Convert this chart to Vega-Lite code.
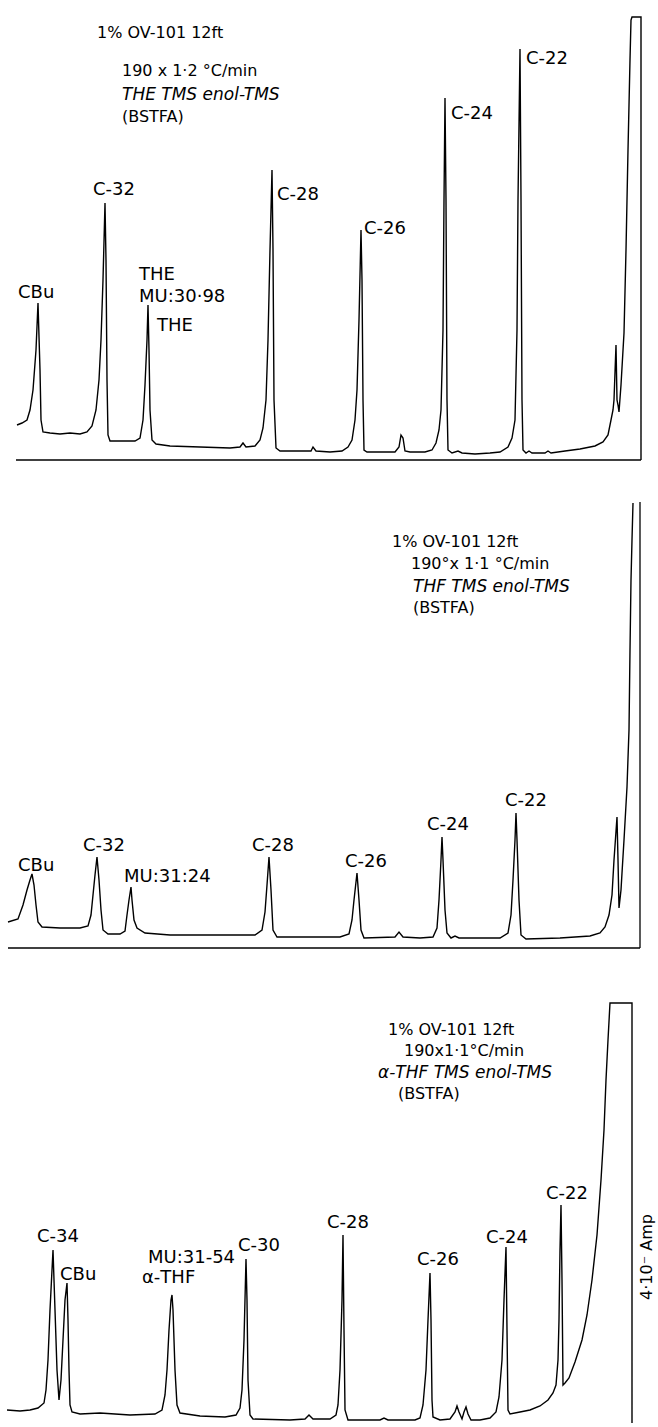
{
  "$schema": "https://vega.github.io/schema/vega-lite/v6.json",
  "padding": 0,
  "background": "white",
  "spacing": 0,
  "bounds": "flush",
  "config": {"view": {"stroke": null}, "text": {"font": "DejaVu Sans", "color": "black"}},
  "datasets": {
    "trace1": [
      {"t":17,"v":35},{"t":22,"v":37},{"t":27,"v":40},{"t":30,"v":50},{"t":33,"v":70},{"t":36,"v":110},{"t":38,"v":157},{"t":40,"v":90},{"t":41,"v":40},{"t":43,"v":28},
      {"t":50,"v":27},{"t":60,"v":26},{"t":70,"v":27},{"t":80,"v":26},{"t":87,"v":28},{"t":92,"v":34},{"t":96,"v":50},{"t":99,"v":80},{"t":101,"v":120},{"t":103,"v":180},
      {"t":105,"v":257},{"t":106,"v":200},{"t":107,"v":80},{"t":108,"v":25},{"t":110,"v":19},{"t":120,"v":19},{"t":135,"v":19},{"t":140,"v":22},{"t":143,"v":40},{"t":145,"v":75},
      {"t":147,"v":120},{"t":148,"v":155},{"t":149,"v":110},{"t":150,"v":50},{"t":152,"v":20},{"t":156,"v":16},{"t":170,"v":14},{"t":200,"v":13},{"t":230,"v":12},{"t":240,"v":13},
      {"t":243,"v":17},{"t":246,"v":13},{"t":255,"v":14},{"t":260,"v":20},{"t":263,"v":32},{"t":266,"v":60},{"t":268,"v":120},{"t":270,"v":210},{"t":272,"v":290},{"t":273,"v":210},
      {"t":274,"v":60},{"t":276,"v":12},{"t":280,"v":9},{"t":300,"v":9},{"t":311,"v":9},{"t":313,"v":13},{"t":316,"v":9},{"t":330,"v":8},{"t":342,"v":9},{"t":348,"v":13},
      {"t":352,"v":20},{"t":355,"v":40},{"t":357,"v":70},{"t":359,"v":140},{"t":361,"v":230},{"t":362,"v":180},{"t":363,"v":60},{"t":364,"v":10},{"t":367,"v":8},{"t":380,"v":8},
      {"t":395,"v":8},{"t":399,"v":13},{"t":401,"v":25},{"t":403,"v":22},{"t":405,"v":9},{"t":410,"v":8},{"t":425,"v":8},{"t":432,"v":10},{"t":436,"v":17},{"t":439,"v":30},
      {"t":441,"v":50},{"t":443,"v":130},{"t":444,"v":260},{"t":445,"v":362},{"t":446,"v":260},{"t":447,"v":60},{"t":448,"v":10},{"t":452,"v":7},{"t":458,"v":9},{"t":462,"v":7},
      {"t":475,"v":6},{"t":490,"v":7},{"t":500,"v":8},{"t":508,"v":13},{"t":512,"v":22},{"t":515,"v":40},{"t":517,"v":130},{"t":518,"v":260},{"t":520,"v":411},{"t":521,"v":260},
      {"t":522,"v":60},{"t":523,"v":10},{"t":526,"v":7},{"t":529,"v":9},{"t":532,"v":7},{"t":545,"v":7},{"t":548,"v":9},{"t":551,"v":7},{"t":565,"v":9},{"t":580,"v":11},
      {"t":595,"v":14},{"t":603,"v":18},{"t":608,"v":25},{"t":611,"v":40},{"t":613,"v":50},{"t":614,"v":60},{"t":616,"v":115},{"t":617,"v":60},{"t":618,"v":55},{"t":619,"v":48},
      {"t":621,"v":75},{"t":624,"v":127},{"t":626,"v":210},{"t":628,"v":310},{"t":630,"v":400},{"t":631,"v":440},{"t":632,"v":443},{"t":641,"v":443},{"t":641,"v":0}
    ],
    "trace2": [
      {"t":8,"v":26},{"t":18,"v":29},{"t":23,"v":43},{"t":27,"v":58},{"t":30,"v":68},{"t":32,"v":74},{"t":34,"v":63},{"t":36,"v":43},{"t":38,"v":26},{"t":42,"v":21},
      {"t":60,"v":20},{"t":80,"v":20},{"t":88,"v":22},{"t":91,"v":33},{"t":93,"v":53},{"t":95,"v":73},{"t":97,"v":91},{"t":99,"v":68},{"t":101,"v":38},{"t":103,"v":18},
      {"t":108,"v":14},{"t":120,"v":14},{"t":125,"v":17},{"t":127,"v":33},{"t":129,"v":48},{"t":131,"v":61},{"t":132,"v":48},{"t":134,"v":28},{"t":137,"v":20},{"t":145,"v":15},
      {"t":170,"v":13},{"t":220,"v":13},{"t":255,"v":13},{"t":262,"v":18},{"t":265,"v":36},{"t":267,"v":63},{"t":269,"v":91},{"t":271,"v":58},{"t":273,"v":18},{"t":277,"v":11},
      {"t":300,"v":11},{"t":340,"v":11},{"t":349,"v":14},{"t":352,"v":28},{"t":354,"v":48},{"t":357,"v":75},{"t":359,"v":48},{"t":361,"v":18},{"t":364,"v":10},{"t":395,"v":11},
      {"t":399,"v":16},{"t":403,"v":11},{"t":420,"v":10},{"t":433,"v":11},{"t":437,"v":20},{"t":439,"v":48},{"t":441,"v":88},{"t":442,"v":111},{"t":443,"v":88},{"t":445,"v":38},
      {"t":447,"v":15},{"t":451,"v":10},{"t":455,"v":12},{"t":459,"v":10},{"t":500,"v":10},{"t":508,"v":15},{"t":511,"v":33},{"t":513,"v":68},{"t":515,"v":108},{"t":516,"v":135},
      {"t":517,"v":108},{"t":519,"v":48},{"t":521,"v":13},{"t":526,"v":9},{"t":560,"v":10},{"t":590,"v":12},{"t":600,"v":15},{"t":605,"v":21},{"t":609,"v":33},{"t":612,"v":53},
      {"t":614,"v":88},{"t":617,"v":131},{"t":618,"v":88},{"t":619,"v":40},{"t":621,"v":58},{"t":622,"v":75},{"t":624,"v":108},{"t":627,"v":161},{"t":629,"v":218},{"t":630,"v":298},
      {"t":631,"v":368},{"t":632,"v":408},{"t":633,"v":445}
    ],
    "trace3": [
      {"t":7,"v":10},{"t":20,"v":9},{"t":30,"v":10},{"t":38,"v":12},{"t":44,"v":17},{"t":46,"v":30},{"t":48,"v":60},{"t":50,"v":110},{"t":52,"v":150},{"t":53,"v":170},
      {"t":55,"v":110},{"t":57,"v":50},{"t":59,"v":20},{"t":61,"v":40},{"t":63,"v":80},{"t":65,"v":120},{"t":67,"v":137},{"t":68,"v":100},{"t":69,"v":50},{"t":70,"v":15},
      {"t":72,"v":8},{"t":80,"v":6},{"t":100,"v":7},{"t":130,"v":5},{"t":155,"v":6},{"t":162,"v":10},{"t":165,"v":25},{"t":167,"v":50},{"t":169,"v":90},{"t":171,"v":120},
      {"t":172,"v":125},{"t":173,"v":110},{"t":175,"v":50},{"t":177,"v":15},{"t":180,"v":7},{"t":200,"v":4},{"t":225,"v":3},{"t":236,"v":5},{"t":240,"v":12},{"t":242,"v":30},
      {"t":244,"v":80},{"t":246,"v":161},{"t":247,"v":120},{"t":248,"v":40},{"t":250,"v":5},{"t":253,"v":1},{"t":290,"v":0},{"t":305,"v":1},{"t":309,"v":5},{"t":313,"v":1},
      {"t":330,"v":1},{"t":336,"v":5},{"t":338,"v":15},{"t":340,"v":50},{"t":342,"v":120},{"t":343,"v":185},{"t":344,"v":90},{"t":345,"v":10},{"t":348,"v":0},{"t":380,"v":0},
      {"t":384,"v":2},{"t":388,"v":0},{"t":415,"v":0},{"t":420,"v":2},{"t":423,"v":15},{"t":426,"v":50},{"t":428,"v":100},{"t":430,"v":147},{"t":431,"v":100},{"t":432,"v":20},
      {"t":433,"v":3},{"t":440,"v":0},{"t":450,"v":1},{"t":455,"v":8},{"t":457,"v":14},{"t":459,"v":8},{"t":462,"v":1},{"t":464,"v":8},{"t":466,"v":13},{"t":468,"v":6},
      {"t":471,"v":0},{"t":480,"v":0},{"t":490,"v":2},{"t":496,"v":8},{"t":499,"v":23},{"t":502,"v":60},{"t":504,"v":120},{"t":506,"v":173},{"t":507,"v":90},{"t":508,"v":10},
      {"t":510,"v":6},{"t":520,"v":8},{"t":530,"v":10},{"t":540,"v":14},{"t":548,"v":20},{"t":553,"v":27},{"t":556,"v":35},{"t":558,"v":60},{"t":559,"v":100},{"t":560,"v":170},
      {"t":561,"v":215},{"t":562,"v":140},{"t":563,"v":35},{"t":565,"v":37},{"t":569,"v":42},{"t":575,"v":58},{"t":582,"v":80},{"t":587,"v":105},{"t":592,"v":140},{"t":597,"v":185},
      {"t":601,"v":240},{"t":604,"v":290},{"t":606,"v":340},{"t":608,"v":380},{"t":610,"v":417},{"t":632,"v":417},{"t":632,"v":-3}
    ],
    "labels": [
      {"panel":1,"t":18,"v":167,"text":"CBu"},
      {"panel":1,"t":93,"v":270,"text":"C-32"},
      {"panel":1,"t":139,"v":185,"text":"THE"},
      {"panel":1,"t":139,"v":163,"text":"MU:30·98"},
      {"panel":1,"t":157,"v":134,"text":"THE"},
      {"panel":1,"t":277,"v":265,"text":"C-28"},
      {"panel":1,"t":364,"v":231,"text":"C-26"},
      {"panel":1,"t":451,"v":346,"text":"C-24"},
      {"panel":1,"t":526,"v":401,"text":"C-22"},
      {"panel":2,"t":18,"v":82,"text":"CBu"},
      {"panel":2,"t":83,"v":102,"text":"C-32"},
      {"panel":2,"t":124,"v":71,"text":"MU:31:24"},
      {"panel":2,"t":252,"v":102,"text":"C-28"},
      {"panel":2,"t":345,"v":86,"text":"C-26"},
      {"panel":2,"t":427,"v":123,"text":"C-24"},
      {"panel":2,"t":505,"v":147,"text":"C-22"},
      {"panel":3,"t":37,"v":183,"text":"C-34"},
      {"panel":3,"t":60,"v":145,"text":"CBu"},
      {"panel":3,"t":148,"v":162,"text":"MU:31-54"},
      {"panel":3,"t":142,"v":142,"text":"α-THF"},
      {"panel":3,"t":238,"v":174,"text":"C-30"},
      {"panel":3,"t":327,"v":197,"text":"C-28"},
      {"panel":3,"t":417,"v":160,"text":"C-26"},
      {"panel":3,"t":486,"v":182,"text":"C-24"},
      {"panel":3,"t":546,"v":226,"text":"C-22"}
    ],
    "notes": [
      {"panel":1,"role":"column","t":97,"v":427,"text":"1% OV-101  12ft"},
      {"panel":1,"role":"program","t":122,"v":389,"text":"190 x 1·2 °C/min"},
      {"panel":1,"role":"sample","t":122,"v":365,"text":"THE TMS enol-TMS"},
      {"panel":1,"role":"reagent","t":122,"v":343,"text":"(BSTFA)"},
      {"panel":2,"role":"column","t":392,"v":406,"text":"1% OV-101  12ft"},
      {"panel":2,"role":"program","t":411,"v":384,"text":"190°x 1·1 °C/min"},
      {"panel":2,"role":"sample","t":413,"v":361,"text":"THF  TMS enol-TMS"},
      {"panel":2,"role":"reagent","t":413,"v":340,"text":"(BSTFA)"},
      {"panel":3,"role":"column","t":388,"v":390,"text":"1% OV-101  12ft"},
      {"panel":3,"role":"program","t":404,"v":369,"text":"190x1·1°C/min"},
      {"panel":3,"role":"sample","t":378,"v":347,"text":"α-THF TMS enol-TMS"},
      {"panel":3,"role":"reagent","t":398,"v":326,"text":"(BSTFA)"},
      {"panel":3,"role":"scale","t":647,"v":163,"text":"4·10⁻ Amp"}
    ]
  },
  "vconcat": [
    {
      "width": 658, "height": 470,
      "layer": [
        {
          "data": {"values": [{}]},
          "mark": {"type": "rule", "color": "black", "strokeWidth": 1.3},
          "encoding": {
            "x": {"datum": 16, "type": "quantitative", "scale": {"domain": [0, 658], "nice": false, "zero": false}, "axis": null},
            "x2": {"datum": 641},
            "y": {"datum": 0, "type": "quantitative", "scale": {"domain": [-10, 460], "nice": false, "zero": false}, "axis": null}
          }
        },
        {
          "data": {"name": "trace1"},
          "mark": {"type": "line", "color": "black", "strokeWidth": 1.4, "strokeJoin": "miter"},
          "encoding": {
            "x": {"field": "t", "type": "quantitative", "scale": {"domain": [0, 658], "nice": false, "zero": false}, "axis": null},
            "y": {"field": "v", "type": "quantitative", "scale": {"domain": [-10, 460], "nice": false, "zero": false}, "axis": null},
            "order": {"value": null}
          }
        },
        {
          "data": {"name": "labels"},
          "transform": [{"filter": "datum.panel === 1"}],
          "mark": {"type": "text", "align": "left", "baseline": "middle", "fontSize": 18},
          "encoding": {
            "x": {"field": "t", "type": "quantitative", "scale": {"domain": [0, 658], "nice": false, "zero": false}, "axis": null},
            "y": {"field": "v", "type": "quantitative", "scale": {"domain": [-10, 460], "nice": false, "zero": false}, "axis": null},
            "text": {"field": "text"}
          }
        },
        {
          "data": {"name": "notes"},
          "transform": [{"filter": "datum.panel === 1 && datum.role !== 'sample'"}],
          "mark": {"type": "text", "align": "left", "baseline": "middle", "fontSize": 16},
          "encoding": {
            "x": {"field": "t", "type": "quantitative", "scale": {"domain": [0, 658], "nice": false, "zero": false}, "axis": null},
            "y": {"field": "v", "type": "quantitative", "scale": {"domain": [-10, 460], "nice": false, "zero": false}, "axis": null},
            "text": {"field": "text"}
          }
        },
        {
          "data": {"name": "notes"},
          "transform": [{"filter": "datum.panel === 1 && datum.role === 'sample'"}],
          "mark": {"type": "text", "align": "left", "baseline": "middle", "fontSize": 17, "fontStyle": "italic"},
          "encoding": {
            "x": {"field": "t", "type": "quantitative", "scale": {"domain": [0, 658], "nice": false, "zero": false}, "axis": null},
            "y": {"field": "v", "type": "quantitative", "scale": {"domain": [-10, 460], "nice": false, "zero": false}, "axis": null},
            "text": {"field": "text"}
          }
        }
      ]
    },
    {
      "width": 658, "height": 490,
      "layer": [
        {
          "data": {"values": [{}]},
          "mark": {"type": "rule", "color": "black", "strokeWidth": 1.3},
          "encoding": {
            "x": {"datum": 8, "type": "quantitative", "scale": {"domain": [0, 658], "nice": false, "zero": false}, "axis": null},
            "x2": {"datum": 640},
            "y": {"datum": 0, "type": "quantitative", "scale": {"domain": [-12, 478], "nice": false, "zero": false}, "axis": null}
          }
        },
        {
          "data": {"values": [{}]},
          "mark": {"type": "rule", "color": "black", "strokeWidth": 1.3},
          "encoding": {
            "x": {"datum": 640, "type": "quantitative", "scale": {"domain": [0, 658], "nice": false, "zero": false}, "axis": null},
            "y": {"datum": 0, "type": "quantitative", "scale": {"domain": [-12, 478], "nice": false, "zero": false}, "axis": null},
            "y2": {"datum": 446}
          }
        },
        {
          "data": {"name": "trace2"},
          "mark": {"type": "line", "color": "black", "strokeWidth": 1.4, "strokeJoin": "miter"},
          "encoding": {
            "x": {"field": "t", "type": "quantitative", "scale": {"domain": [0, 658], "nice": false, "zero": false}, "axis": null},
            "y": {"field": "v", "type": "quantitative", "scale": {"domain": [-12, 478], "nice": false, "zero": false}, "axis": null},
            "order": {"value": null}
          }
        },
        {
          "data": {"name": "labels"},
          "transform": [{"filter": "datum.panel === 2"}],
          "mark": {"type": "text", "align": "left", "baseline": "middle", "fontSize": 18},
          "encoding": {
            "x": {"field": "t", "type": "quantitative", "scale": {"domain": [0, 658], "nice": false, "zero": false}, "axis": null},
            "y": {"field": "v", "type": "quantitative", "scale": {"domain": [-12, 478], "nice": false, "zero": false}, "axis": null},
            "text": {"field": "text"}
          }
        },
        {
          "data": {"name": "notes"},
          "transform": [{"filter": "datum.panel === 2 && datum.role !== 'sample'"}],
          "mark": {"type": "text", "align": "left", "baseline": "middle", "fontSize": 16},
          "encoding": {
            "x": {"field": "t", "type": "quantitative", "scale": {"domain": [0, 658], "nice": false, "zero": false}, "axis": null},
            "y": {"field": "v", "type": "quantitative", "scale": {"domain": [-12, 478], "nice": false, "zero": false}, "axis": null},
            "text": {"field": "text"}
          }
        },
        {
          "data": {"name": "notes"},
          "transform": [{"filter": "datum.panel === 2 && datum.role === 'sample'"}],
          "mark": {"type": "text", "align": "left", "baseline": "middle", "fontSize": 17, "fontStyle": "italic"},
          "encoding": {
            "x": {"field": "t", "type": "quantitative", "scale": {"domain": [0, 658], "nice": false, "zero": false}, "axis": null},
            "y": {"field": "v", "type": "quantitative", "scale": {"domain": [-12, 478], "nice": false, "zero": false}, "axis": null},
            "text": {"field": "text"}
          }
        }
      ]
    },
    {
      "width": 658, "height": 467,
      "layer": [
        {
          "data": {"name": "trace3"},
          "mark": {"type": "line", "color": "black", "strokeWidth": 1.4, "strokeJoin": "miter"},
          "encoding": {
            "x": {"field": "t", "type": "quantitative", "scale": {"domain": [0, 658], "nice": false, "zero": false}, "axis": null},
            "y": {"field": "v", "type": "quantitative", "scale": {"domain": [-7, 460], "nice": false, "zero": false}, "axis": null},
            "order": {"value": null}
          }
        },
        {
          "data": {"name": "labels"},
          "transform": [{"filter": "datum.panel === 3"}],
          "mark": {"type": "text", "align": "left", "baseline": "middle", "fontSize": 18},
          "encoding": {
            "x": {"field": "t", "type": "quantitative", "scale": {"domain": [0, 658], "nice": false, "zero": false}, "axis": null},
            "y": {"field": "v", "type": "quantitative", "scale": {"domain": [-7, 460], "nice": false, "zero": false}, "axis": null},
            "text": {"field": "text"}
          }
        },
        {
          "data": {"name": "notes"},
          "transform": [{"filter": "datum.panel === 3 && datum.role !== 'sample' && datum.role !== 'scale'"}],
          "mark": {"type": "text", "align": "left", "baseline": "middle", "fontSize": 16},
          "encoding": {
            "x": {"field": "t", "type": "quantitative", "scale": {"domain": [0, 658], "nice": false, "zero": false}, "axis": null},
            "y": {"field": "v", "type": "quantitative", "scale": {"domain": [-7, 460], "nice": false, "zero": false}, "axis": null},
            "text": {"field": "text"}
          }
        },
        {
          "data": {"name": "notes"},
          "transform": [{"filter": "datum.panel === 3 && datum.role === 'sample'"}],
          "mark": {"type": "text", "align": "left", "baseline": "middle", "fontSize": 17, "fontStyle": "italic"},
          "encoding": {
            "x": {"field": "t", "type": "quantitative", "scale": {"domain": [0, 658], "nice": false, "zero": false}, "axis": null},
            "y": {"field": "v", "type": "quantitative", "scale": {"domain": [-7, 460], "nice": false, "zero": false}, "axis": null},
            "text": {"field": "text"}
          }
        },
        {
          "data": {"name": "notes"},
          "transform": [{"filter": "datum.panel === 3 && datum.role === 'scale'"}],
          "mark": {"type": "text", "align": "center", "baseline": "middle", "fontSize": 16, "angle": 270},
          "encoding": {
            "x": {"field": "t", "type": "quantitative", "scale": {"domain": [0, 658], "nice": false, "zero": false}, "axis": null},
            "y": {"field": "v", "type": "quantitative", "scale": {"domain": [-7, 460], "nice": false, "zero": false}, "axis": null},
            "text": {"field": "text"}
          }
        }
      ]
    }
  ]
}
